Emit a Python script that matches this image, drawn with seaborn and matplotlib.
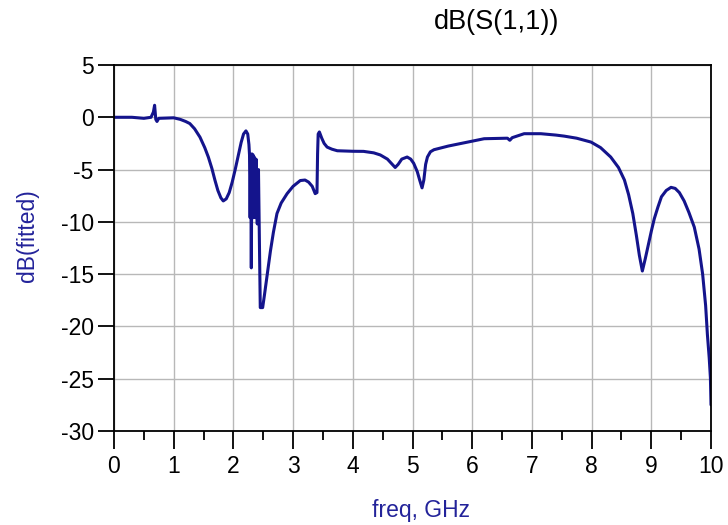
import matplotlib
matplotlib.use("Agg")
import matplotlib.pyplot as plt
import seaborn as sns
import pandas as pd
from matplotlib.ticker import MultipleLocator

freq_ghz = [0.0, 0.3, 0.5, 0.62, 0.66, 0.68, 0.70, 0.72, 0.75, 1.0,
            1.11, 1.2, 1.27, 1.35, 1.44, 1.52, 1.58, 1.64, 1.69, 1.74,
            1.79, 1.83, 1.88, 1.93, 1.98, 2.03, 2.08, 2.13, 2.17, 2.21, 2.24,
            2.26, 2.27, 2.28, 2.29, 2.30, 2.31, 2.32, 2.33, 2.34, 2.35,
            2.37, 2.38, 2.40, 2.42, 2.45, 2.49, 2.52, 2.56, 2.59, 2.62,
            2.67, 2.73, 2.80, 2.90, 3.0, 3.12, 3.2, 3.26, 3.32, 3.37,
            3.40, 3.41, 3.42, 3.44, 3.48, 3.52, 3.57, 3.65, 3.74, 4.0,
            4.18, 4.35, 4.46, 4.58, 4.66, 4.71, 4.76, 4.82, 4.91, 4.97,
            5.02, 5.08, 5.12, 5.16, 5.19, 5.22, 5.25, 5.30, 5.36, 5.6,
            5.86, 6.2, 6.59, 6.63, 6.67, 6.87, 7.15, 7.4, 7.54, 7.75,
            7.99, 8.15, 8.32, 8.45, 8.55, 8.62, 8.69, 8.75, 8.80, 8.85,
            8.90, 8.95, 9.0, 9.05, 9.11, 9.17, 9.25, 9.33, 9.40, 9.47,
            9.55, 9.63, 9.72, 9.80, 9.86, 9.91, 9.94, 9.97, 9.99, 10.0]
db_fitted = [0.0, 0.0, -0.1, 0.0, 0.5, 1.15, -0.2, -0.4, -0.1, -0.05,
             -0.2, -0.4, -0.6, -1.1, -1.9, -2.9, -3.8, -4.9, -6.0, -7.0,
             -7.7, -8.0, -7.8, -7.2, -6.2, -5.0, -3.7, -2.4, -1.6, -1.3, -1.6,
             -2.6, -3.6, -9.6, -3.8, -14.4, -3.5, -9.5, -3.6, -9.6, -3.8,
             -9.6, -4.0, -10.2, -5.0, -18.2, -18.2, -17.0, -15.3, -14.0, -12.8,
             -11.0, -9.2, -8.2, -7.3, -6.6, -6.05, -6.0, -6.2, -6.6, -7.3,
             -7.2, -3.5, -1.6, -1.4, -2.0, -2.5, -2.85, -3.05, -3.2, -3.25,
             -3.26, -3.4, -3.6, -4.0, -4.5, -4.8, -4.5, -4.0, -3.8, -4.0,
             -4.4, -5.2, -6.0, -6.75, -6.0, -4.5, -3.8, -3.3, -3.1, -2.75,
             -2.45, -2.05, -2.0, -2.2, -1.95, -1.57, -1.57, -1.7, -1.8, -2.0,
             -2.37, -2.9, -3.8, -4.8, -6.0, -7.4, -9.2, -11.3, -13.2, -14.7,
             -13.5, -12.2, -10.9, -9.7, -8.6, -7.6, -7.0, -6.7, -6.8, -7.2,
             -8.0, -9.1, -10.5, -12.6, -15.0, -18.0, -20.8, -23.0, -24.9, -27.5]

x_ticks = [0, 1, 2, 3, 4, 5, 6, 7, 8, 9, 10]
y_ticks = [5, 0, -5, -10, -15, -20, -25, -30]

sns.set_style("white")
plt.rcParams['font.family'] = ['Liberation Sans', 'DejaVu Sans']
plt.rcParams['axes.unicode_minus'] = False
fs = 16.5

df = pd.DataFrame({"freq": freq_ghz, "db": db_fitted})

fig = plt.figure(figsize=(7.28, 5.25), dpi=100)
ax = fig.add_axes([114/728, 1 - 431/525, (711 - 114)/728, (431 - 65)/525])

sns.lineplot(data=df, x="freq", y="db", ax=ax, color="#14148c", linewidth=2.2,
             estimator=None, sort=False)

ax.set_xlim(0, 10)
ax.set_ylim(-30, 5)
ax.set_xticks(x_ticks)
ax.set_yticks(y_ticks)
ax.xaxis.set_minor_locator(MultipleLocator(0.5))
ax.grid(True, which="major", color="#b8b8b8", linewidth=1)
ax.set_axisbelow(True)
for s in ax.spines.values():
    s.set_color("black")
    s.set_linewidth(1.3)
    s.set_visible(True)

ax.tick_params(axis="y", which="major", direction="out", length=11.5, width=1.3,
               colors="black", labelsize=fs, pad=3)
ax.tick_params(axis="x", which="major", direction="out", length=13, width=1.3,
               colors="black", labelsize=fs, pad=4)
ax.tick_params(axis="x", which="minor", direction="out", length=6.5, width=1.3,
               colors="black")
ax.tick_params(left=True, bottom=True, which="both")

ax.set_xlabel("")
ax.set_ylabel("")
fig.text(421/728, 1 - 510/525, "freq, GHz", ha="center", va="center",
         fontsize=fs, color="#23239a")
fig.text(27/728, 1 - 236/525, "dB(fitted)", ha="center", va="center",
         rotation=90, fontsize=fs, color="#23239a")
fig.text(497/728, 1 - 22/525, "dB(S(1,1))", ha="center", va="center",
         fontsize=19.5, color="black")

fig.savefig("out.png", dpi=100)
